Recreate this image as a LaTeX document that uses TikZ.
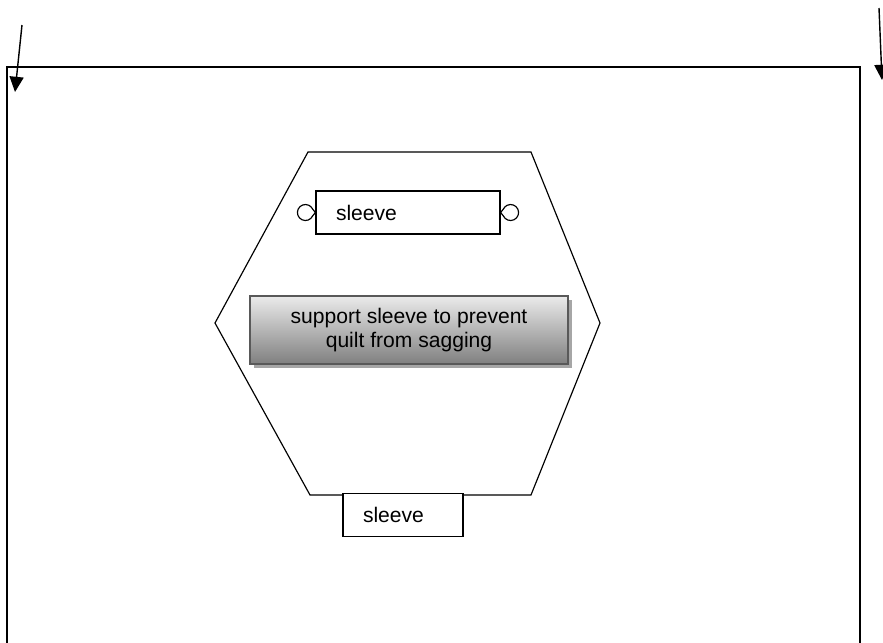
\documentclass[tikz,border=0pt]{standalone}
\usepackage{fontspec}
\setmainfont{Liberation Sans}
\usetikzlibrary{arrows.meta,shadows}
\tikzset{
  sleevebox/.style={draw, line width=1pt, fill=white, minimum height=43*0.03cm, font=\fontsize{18}{21}\selectfont, inner xsep=20*0.03cm, inner ysep=0pt, align=left},
  holdbox/.style={draw=black!65, line width=1.2pt, top color=black!8, bottom color=black!50, minimum width=318*0.03cm, minimum height=68*0.03cm, align=center, font=\fontsize{18}{21}\selectfont, drop shadow={shadow xshift=1.2mm, shadow yshift=-1.2mm, fill=black!35, opacity=1}},
  pointer/.style={line width=1.2pt, -{Triangle[length=13pt,width=12pt]}}
}
\begin{document}
\begin{tikzpicture}[x=0.03cm, y=-0.03cm]
		%%%%% START %%%%%
		\useasboundingbox (0, 0) rectangle (883, 643);
		
		\draw[line width=1pt] (7, 700) -- (7, 67) -- (860, 67) -- (860, 700);
		
		\coordinate (inL) at (15, 92);
		\coordinate (inR) at (882, 80);
		\draw[pointer] (22, 25) -- (inL);
		\draw[pointer] (879, 8) -- (inR);
		
		\draw[line width=1pt] (308, 152) -- (531, 152) -- (600, 323) -- (531, 495) -- (310, 495) -- (215, 323) -- cycle;
		
		\node[sleevebox, text width=144*0.03cm] (top) at (408, 212.5) {sleeve};
		\draw[line width=1pt] (top.west) ++(-2.75, 3.4) arc (25:335:8) -- (top.west) -- cycle;
		\draw[line width=1pt] (top.east) ++(2.75, 3.4) arc (155:-155:8) -- (top.east) -- cycle;
		
		\node[holdbox] (hold) at (409, 330) {support sleeve to prevent\\quilt from sagging};
		
		\node[sleevebox, text width=80*0.03cm] (bottom) at (403, 515) {sleeve};
		%%%%% END %%%%%
\end{tikzpicture}
\end{document}
